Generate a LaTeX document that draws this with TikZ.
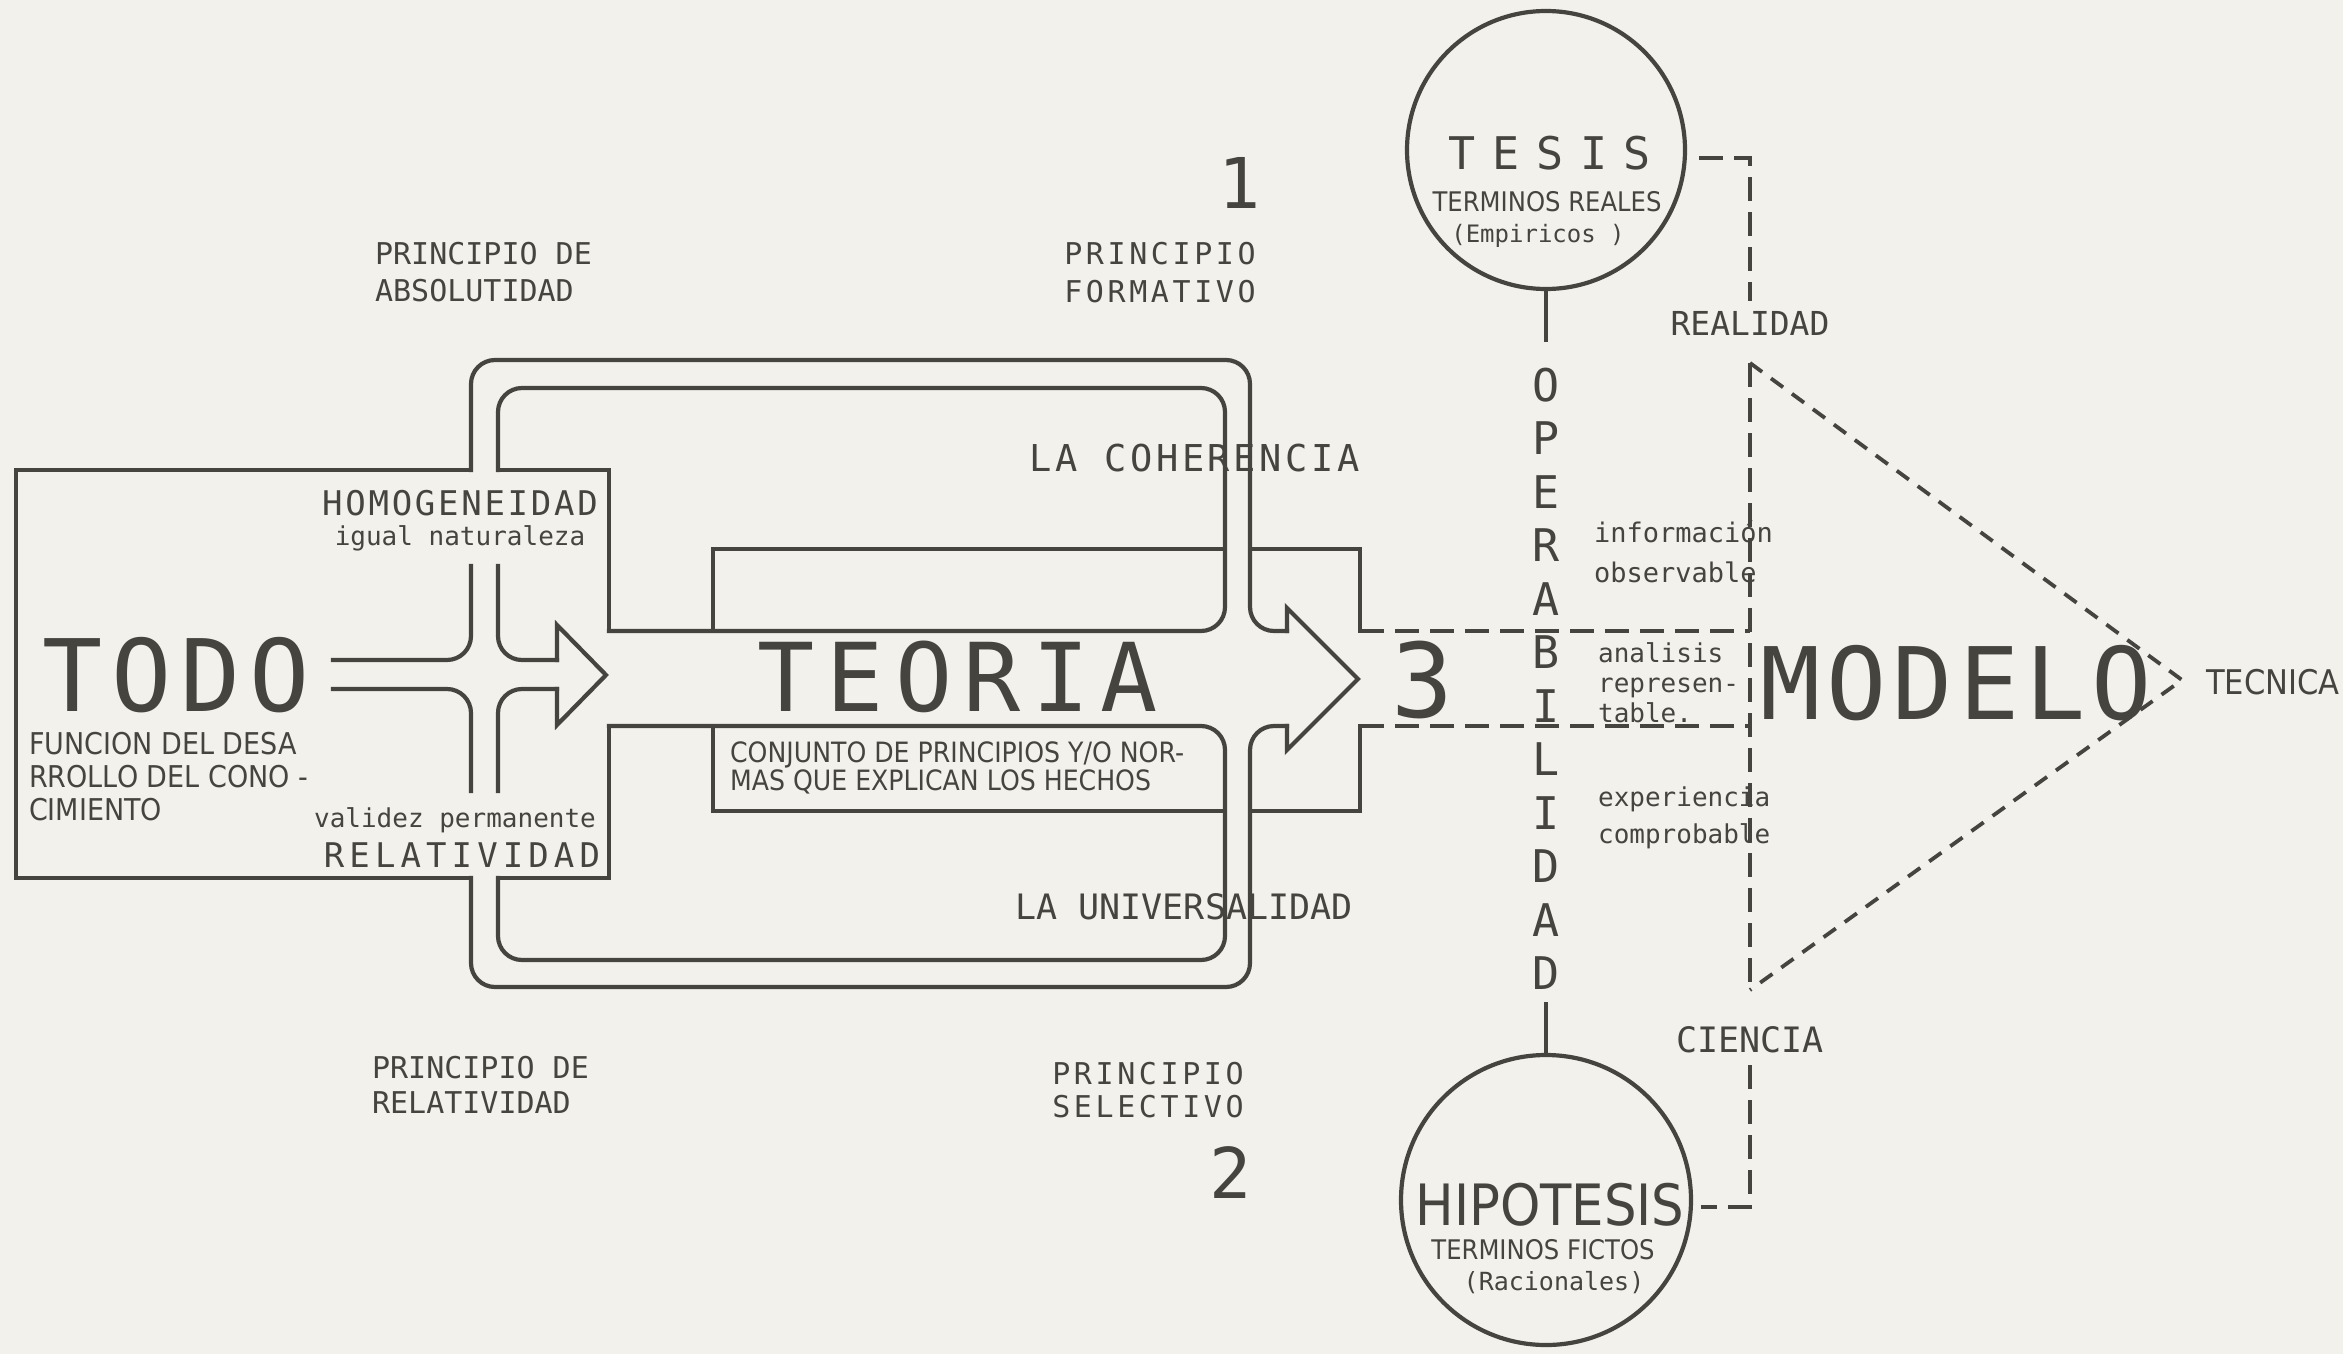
\documentclass[tikz,border=0pt]{standalone}
\usepackage{fontspec}
\setmainfont{DejaVu Sans Mono}
\newfontfamily\narrowfont[FakeStretch=0.9]{DejaVu Sans}
\usetikzlibrary{positioning}

\definecolor{paper}{RGB}{243,241,235}
\definecolor{ink}{RGB}{70,68,62}
\newcommand{\setsize}[2]{\fontsize{#1}{#2}\selectfont}
\newcommand{\track}[1]{\addfontfeature{LetterSpace=#1}}

\begin{document}
\begin{tikzpicture}[x=1pt, y=-1pt, line width=4.2pt, color=ink,
  wall/.style={line cap=rect, line join=miter},
  roundwall/.style={line cap=rect, rounded corners=24pt},
  dashline/.style={dash pattern=on 24pt off 11pt, line width=4pt},
  dashdiag/.style={dash pattern=on 15pt off 11pt, line width=3.8pt},
  txt/.style={inner sep=0pt, text=ink},
  bigword/.style={txt, font=\setsize{100}{100}},
  capline/.style={txt, font=\setsize{30}{37}},
  typeline/.style={txt, font=\setsize{26}{36}, align=left, anchor=west},
  narrowline/.style={txt, font=\narrowfont\setsize{28}{28}},
  ring/.style={circle, draw, inner sep=0pt}]

\fill[paper] (0,0) rectangle (2343,1354);
\useasboundingbox (0,0) rectangle (2343,1354);

% TODO box
\draw[wall] (471,470) -- (16,470) -- (16,878) -- (471,878);

% inner loop, upper and lower half
\draw[wall] (498,470) -- (609,470) -- (609,631);
\draw[roundwall] (498,470) |- (1225,388) |- (609,631);
\draw[wall] (498,878) -- (609,878) -- (609,726);
\draw[roundwall] (498,878) |- (1225,960) |- (609,726);

% outer loop with the big arrow head
\draw[roundwall] (471,470) |- (1250,360) |- (1287,631);
\draw[wall] (1287,631) -- (1287,608) -- (1358,679) -- (1287,750) -- (1287,726);
\draw[roundwall] (1287,726) -| (1250,987) -| (471,878);

% tabs above and below the TEORIA shaft
\draw[wall] (713,631) -- (713,549) -- (1225,549);
\draw[wall] (1250,549) -- (1360,549) -- (1360,631);
\draw[wall] (713,726) -- (713,811) -- (1225,811);
\draw[wall] (1250,811) -- (1360,811) -- (1360,726);

% small arrow out of TODO
\draw[roundwall] (333,660) -| (471,566);
\draw[roundwall] (498,566) |- (557,660);
\draw[wall] (557,660) -- (557,625) -- (606,675) -- (557,725) -- (557,689);
\draw[roundwall] (557,689) -| (498,791);
\draw[roundwall] (333,689) -| (471,791);

% dashed channel to MODELO
\draw[dashline] (1360,631) -- (1750,631);
\draw[dashline] (1360,726) -- (1750,726);

% left part
\node[bigword, font=\setsize{100}{100}\track{9}] (todo) at (176,675) {TODO};
\node[txt, font=\narrowfont\setsize{30}{33}, align=left, anchor=west] (todonote) at (27,777)
  {FUNCION DEL DESA\\RROLLO DEL CONO -\\CIMIENTO};
\node[txt, font=\setsize{34}{34}\track{8}] (homog) at (460,503) {HOMOGENEIDAD};
\node[txt, font=\setsize{26}{26}] (igual) at (460,538) {igual naturaleza};
\node[txt, font=\setsize{26}{26}] (validez) at (455,820) {validez permanente};
\node[txt, font=\setsize{34}{34}\track{15}] (relat) at (462,855) {RELATIVIDAD};

% principles
\node[capline, align=left, anchor=west] (absolut) at (373,272) {PRINCIPIO DE\\ABSOLUTIDAD};
\node[capline, font=\setsize{30}{38}\track{12}, align=center] (formativo) at (1160,273) {PRINCIPIO\\FORMATIVO};
\node[txt, font=\setsize{70}{70}] (one) at (1240,183) {1};
\node[capline, font=\setsize{30}{35}, align=left, anchor=west] (relativ) at (370,1085) {PRINCIPIO DE\\RELATIVIDAD};
\node[capline, font=\setsize{30}{33}\track{12}, align=center] (selectivo) at (1148,1090) {PRINCIPIO\\SELECTIVO};
\node[txt, font=\setsize{70}{70}] (two) at (1231,1173) {2};

% TEORIA
\node[bigword, font=\setsize{95}{95}\track{12}] (teoria) at (958,677) {TEORIA};
\node[narrowline, align=left, anchor=west] (conjunto) at (728,768)
  {CONJUNTO DE PRINCIPIOS Y/O NOR-\\MAS QUE EXPLICAN LOS HECHOS};
\node[txt, font=\setsize{37}{37}\track{10}] (coherencia) at (1195,458) {LA COHERENCIA};
\node[txt, font=\setsize{35}{35}] (universal) at (1184,907) {LA UNIVERSALIDAD};
\node[txt, font=\setsize{103}{103}] (three) at (1422,680) {3};

% TESIS and HIPOTESIS
\node[ring, minimum size=278pt] (tesis) at (1546,150) {};
\node[txt, font=\setsize{45}{45}\track{37}] (tesisname) at (1550,153) {TESIS};
\node[txt, font=\narrowfont\setsize{27}{27}] (tesisterm) at (1547,202) {TERMINOS REALES};
\node[txt, font=\setsize{24}{24}] (tesisnote) at (1538,236) {(Empiricos )};
\node[ring, minimum size=290pt] (hipotesis) at (1546,1200) {};
\node[txt, font=\narrowfont\setsize{57}{57}] (hipname) at (1550,1205) {HIPOTESIS};
\node[txt, font=\narrowfont\setsize{27}{27}] (hipterm) at (1543,1250) {TERMINOS FICTOS};
\node[txt, font=\setsize{25}{25}] (hipnote) at (1554,1283) {(Racionales)};

% OPERABILIDAD column
\foreach \ch [count=\i] in {O,P,E,R,A,B,I,L,I,D,A,D}
  \node[txt, font=\setsize{45}{45}] (op\i) at (1546,{385+53.5*(\i-1)}) {\ch};
\draw (tesis.south) -- ([yshift=24pt]op1.north);
\draw ([yshift=-10pt]op12.south) -- (hipotesis.north);

% texts in the channel
\node[typeline, font=\setsize{27}{40}] (info) at (1592,552) {informaci\'on\\observable};
\node[typeline, font=\setsize{26}{30}] (analisis) at (1596,683) {analisis\\represen-\\table.};
\node[typeline, font=\setsize{26}{37}] (experiencia) at (1596,818) {experiencia\\comprobable};

% MODELO and the triangle
\node[bigword, font=\setsize{100}{100}\track{6}] (modelo) at (1956,683) {MODELO};
\node[txt, font=\narrowfont\setsize{34}{34}, anchor=west] (tecnica) at (2204,682) {TECNICA};
\node[txt, font=\setsize{33}{33}] (realidad) at (1750,323) {REALIDAD};
\node[txt, font=\setsize{35}{35}] (ciencia) at (1750,1040) {CIENCIA};
\coordinate (ctop) at (1750,363);
\coordinate (cbot) at (1750,990);
\coordinate (apex) at (2182,680);
\draw[dashline] ([xshift=12pt,yshift=-8pt]tesis.east) -| ([yshift=8pt]realidad.north);
\draw[dashline] (ctop) -- (cbot);
\draw[dashdiag] (ctop) -- (apex) -- (cbot);
\draw[dashline] ([yshift=-10pt]ciencia.south) |- ([xshift=8pt,yshift=-7pt]hipotesis.east);

\end{tikzpicture}
\end{document}
